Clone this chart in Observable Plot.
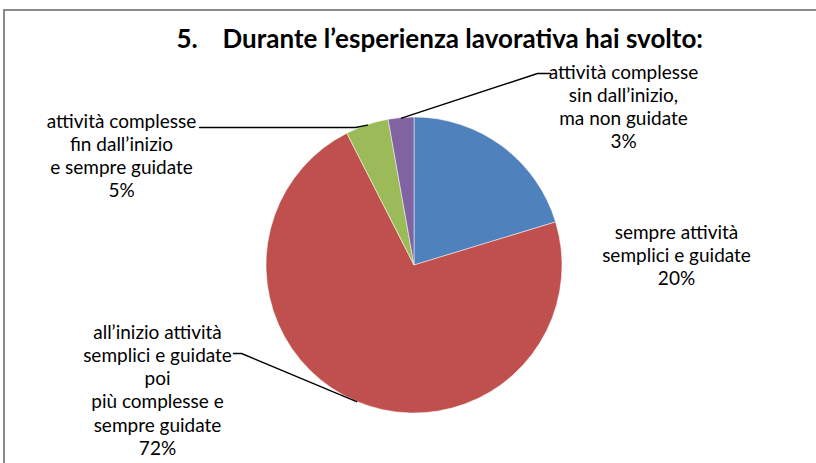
<!DOCTYPE html>
<html><head><meta charset="utf-8">
<script src="https://cdn.jsdelivr.net/npm/d3@7"></script>
<script src="https://cdn.jsdelivr.net/npm/@observablehq/plot@0.6"></script>
<style>
html,body{margin:0;padding:0;background:#fff;overflow:hidden}
#wrap{position:relative;width:816px;height:463px;overflow:hidden}
#frame{position:absolute;left:3px;top:9px;width:1000px;height:1000px;border-left:2px solid #8a8a8a;border-top:2px solid #8a8a8a}
#chart{position:absolute;left:0;top:0}
</style></head><body>
<div id="wrap"><div id="frame"></div><div id="chart"></div></div>
<script>
// ---- data ----
const categories = [
  "sempre attività semplici e guidate",
  "all’inizio attività semplici e guidate poi più complesse e sempre guidate",
  "attività complesse fin dall’inizio e sempre guidate",
  "attività complesse sin dall’inizio, ma non guidate"
];
const values = [20.3, 72.2, 4.7, 2.8];
const percentLabels = ["20%", "72%", "5%", "3%"];
const labelLines = [
  ["sempre attività", "semplici e guidate"],
  ["all’inizio attività", "semplici e guidate", "poi", "più complesse e", "sempre guidate"],
  ["attività complesse", "fin dall’inizio", "e sempre guidate"],
  ["attività complesse", "sin dall’inizio,", "ma non guidate"]
];
const colors = ["#4F81BD", "#C0504D", "#9BBB59", "#8064A2"];
const titleNumber = "5.";
const titleText = "Durante l’esperienza lavorativa hai svolto:";

// ---- layout (screen px) ----
const W = 816, H = 463, CX = 414, CY = 265, R = 148;
const FONT = "Lato, 'Liberation Sans', sans-serif";
const FS = 19, LH = 23.3;
const labelAt = [[676, 238], [157, 338], [121, 127], [623, 78]]; // centre x, first baseline
const leaderAt = [null, [[233, 353], [241, 353]], [[199, 127], [355, 127]], [[550, 73], [537, 73]]];
const titleNumberAt = [176, 47], titleTextAt = [222, 47], TITLE_FS = 26;

// ---- build ----
const pieData = categories.map((c, i) => ({category: c, value: values[i]}));
const total = d3.sum(values);
let cum = 0;
const midAngles = values.map(v => { const a = 2 * Math.PI * (cum + v / 2) / total; cum += v; return a; });

const labelData = labelLines.map((lines, i) => {
  const all = [...lines, percentLabels[i]];
  return {text: all.join("\n"), x: labelAt[i][0] - CX, y: labelAt[i][1] + (all.length - 1) * LH - CY};
});
const leaderData = [];
leaderAt.forEach((pts, i) => {
  if (!pts) return;
  pts.forEach(p => leaderData.push({slice: i, x: p[0] - CX, y: p[1] - CY}));
  leaderData.push({slice: i, x: R * Math.sin(midAngles[i]), y: -R * Math.cos(midAngles[i])});
});
const titleData = [
  {text: titleNumber, x: titleNumberAt[0] - CX, y: titleNumberAt[1] - CY},
  {text: titleText, x: titleTextAt[0] - CX, y: titleTextAt[1] - CY}
];

function pieMark(index, scales) {
  const cx = scales.x(0), cy = scales.y(0), r = scales.x(R) - cx;
  const arcs = d3.pie().sort(null).value(d => d.value)(pieData);
  const arc = d3.arc().innerRadius(0).outerRadius(r);
  const g = d3.create("svg:g").attr("transform", `translate(${cx},${cy})`);
  g.selectAll("path").data(arcs).join("path")
    .attr("d", arc)
    .attr("fill", a => scales.color ? scales.color(a.data.category) : colors[a.index])
    .attr("stroke", "#ffffff").attr("stroke-width", 0.5);
  return g.node();
}

const chart = Plot.plot({
  width: W, height: H,
  marginTop: 0, marginRight: 0, marginBottom: 0, marginLeft: 0,
  style: {fontFamily: FONT, background: "transparent", overflow: "visible"},
  x: {domain: [-CX, W - CX], range: [0, W], axis: null},
  y: {domain: [-CY, H - CY], range: [0, H], axis: null},
  color: {domain: categories, range: colors},
  marks: [
    Plot.dot(pieData, {x: () => 0, y: () => 0, r: 0, fill: "category"}),
    pieMark,
    Plot.line(leaderData, {x: "x", y: "y", z: "slice", stroke: "black", strokeWidth: 1.4}),
    Plot.text(labelData, {x: "x", y: "y", text: "text", textAnchor: "middle", lineAnchor: "bottom",
      fontSize: FS, lineHeight: LH / FS, fill: "black"}),
    Plot.text(titleData, {x: "x", y: "y", text: "text", textAnchor: "start", lineAnchor: "bottom",
      fontSize: TITLE_FS, fontWeight: "bold", fill: "black"})
  ]
});
document.getElementById("chart").appendChild(chart);
</script>
</body></html>
